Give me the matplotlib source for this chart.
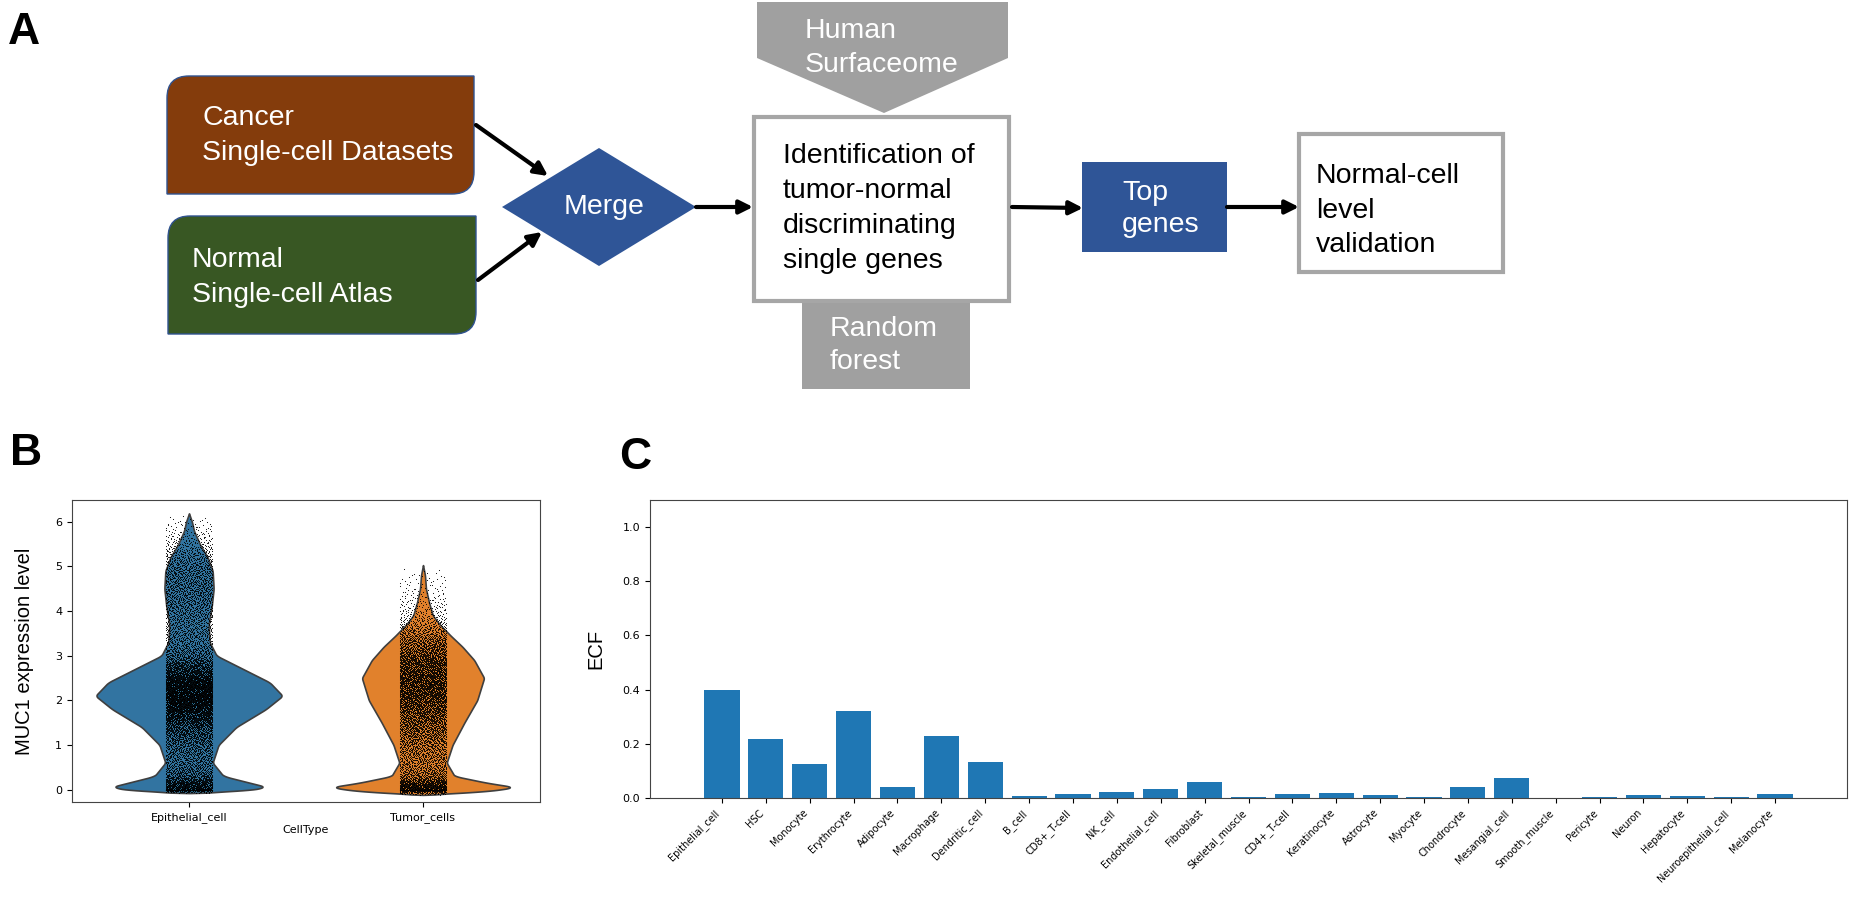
import numpy as np
import matplotlib
matplotlib.use('Agg')
import matplotlib.pyplot as plt
from matplotlib.patches import Polygon, Rectangle, PathPatch
from matplotlib.path import Path

plt.rcParams['font.family'] = ['Liberation Sans', 'DejaVu Sans']

# ---- panel C data ----
cell_types = ['Epithelial_cell', 'HSC', 'Monocyte', 'Erythrocyte', 'Adipocyte', 'Macrophage',
              'Dendritic_cell', 'B_cell', 'CD8+_T-cell', 'NK_cell', 'Endothelial_cell', 'Fibroblast',
              'Skeletal_muscle', 'CD4+_T-cell', 'Keratinocyte', 'Astrocyte', 'Myocyte', 'Chondrocyte',
              'Mesangial_cell', 'Smooth_muscle', 'Pericyte', 'Neuron', 'Hepatocyte',
              'Neuroepithelial_cell', 'Melanocyte']
ecf = [0.40, 0.218, 0.126, 0.32, 0.042, 0.23, 0.133, 0.008, 0.014, 0.022, 0.033, 0.058,
       0.003, 0.013, 0.018, 0.011, 0.004, 0.04, 0.074, 0.0, 0.003, 0.011, 0.009, 0.003, 0.015]

# ---- panel B data (violin outline: level, half-width in px) ----
violin_groups = ['Epithelial_cell', 'Tumor_cells']
violin_colors = ['#3274a1', '#e1812c']
epi_levels = [-0.08, -0.03, 0.05, 0.15, 0.3, 0.6, 1.0, 1.4, 1.8, 2.1, 2.4, 2.7, 3.0, 3.3,
              3.7, 4.1, 4.5, 4.9, 5.2, 5.5, 5.8, 6.0, 6.19]
epi_width = [0, 55, 80, 62, 35, 24, 30, 48, 78, 95, 82, 55, 28, 21,
             20, 23, 25, 24, 19, 11, 5, 3, 0]
tum_levels = [-0.12, -0.04, 0.05, 0.15, 0.3, 0.6, 1.0, 1.5, 2.0, 2.5, 2.9, 3.2, 3.45, 3.7,
              3.9, 4.2, 4.5, 4.8, 5.03]
tum_width = [0, 65, 94, 65, 32, 24, 30, 42, 55, 62, 52, 40, 28, 17,
             10, 6, 3, 2, 0]
n_cells = [9000, 7000]
n_zero = [500, 300]

W, H = 1850, 897
fig = plt.figure(figsize=(W / 100, H / 100), dpi=100)

# ---- panel A: flow chart drawn in pixel coordinates ----
ov = fig.add_axes([0, 0, 1, 1])
ov.set_xlim(0, W)
ov.set_ylim(H, 0)
ov.axis('off')
ov.patch.set_visible(False)

fs = 20.5
blue = '#2F5597'
gray = '#A0A0A0'


def diag_box(x0, y0, x1, y1, r, color):
    verts = [(x0, y1), (x0, y0 + r), (x0, y0), (x0 + r, y0), (x1, y0), (x1, y1 - r),
             (x1, y1), (x1 - r, y1), (x0, y1)]
    codes = [Path.MOVETO, Path.LINETO, Path.CURVE3, Path.CURVE3, Path.LINETO, Path.LINETO,
             Path.CURVE3, Path.CURVE3, Path.CLOSEPOLY]
    ov.add_patch(PathPatch(Path(verts, codes), facecolor=color, edgecolor='#2F528F', lw=1))


def arrow(p0, p1):
    ov.annotate('', xy=p1, xytext=p0,
                arrowprops=dict(arrowstyle='-|>', lw=3, color='black', mutation_scale=20,
                                shrinkA=0, shrinkB=0))


def lines(x, ys, texts, color):
    for y, t in zip(ys, texts):
        ov.text(x, y, t, fontsize=fs, color=color, va='baseline', ha='left')


def halton(n, base):
    out = np.zeros(n)
    for k in range(n):
        f, r, i = 1.0, 0.0, k + 1
        while i > 0:
            f /= base
            r += f * (i % base)
            i //= base
        out[k] = r
    return out


diag_box(167, 76, 474, 194, 22, '#843C0C')
lines(202, [125, 160], ['Cancer', 'Single-cell Datasets'], 'white')
diag_box(168, 216, 476, 334, 22, '#385723')
lines(192, [267, 302], ['Normal', 'Single-cell Atlas'], 'white')

ov.add_patch(Polygon([(502, 207), (599, 148), (696, 207), (599, 266)], closed=True,
                     facecolor=blue, edgecolor='none'))
ov.text(604, 207, 'Merge', fontsize=fs, color='white', ha='center', va='center')

arrow((476, 125), (548, 176))
arrow((478, 280), (542, 232))
arrow((696, 207), (753, 207))

ov.add_patch(Polygon([(757, 2), (1008, 2), (1008, 58), (884, 113), (757, 58)], closed=True,
                     facecolor=gray, edgecolor='none'))
lines(805, [38, 72], ['Human', 'Surfaceome'], 'white')

ov.add_patch(Rectangle((802, 302), 168, 87, facecolor=gray, edgecolor='none'))
lines(830, [336, 369], ['Random', 'forest'], 'white')

ov.add_patch(Rectangle((754, 117), 255, 184, facecolor='white', edgecolor='#A6A6A6', lw=3))
lines(783, [163, 198, 233, 268],
      ['Identification of', 'tumor-normal', 'discriminating', 'single genes'], 'black')

arrow((1012, 207), (1083, 208))
ov.add_patch(Rectangle((1082, 162), 145, 90, facecolor=blue, edgecolor='none'))
lines(1122, [200, 232], ['Top', 'genes'], 'white')

arrow((1227, 207), (1299, 207))
ov.add_patch(Rectangle((1299, 134), 204, 138, facecolor='white', edgecolor='#A6A6A6', lw=3))
lines(1316, [183, 218, 252], ['Normal-cell', 'level', 'validation'], 'black')

for lab, x, y in [('A', 8, 12), ('B', 10, 433), ('C', 619, 437)]:
    ov.text(x, y, lab, fontsize=32, fontweight='bold', va='top', ha='left')

# ---- panel B: violins ----
axb = fig.add_axes([72 / W, 1 - 802 / H, 468 / W, 302 / H])
half_max = 0.4 / 95
profiles = [(epi_levels, epi_width), (tum_levels, tum_width)]
for i, (lv, wd) in enumerate(profiles):
    lv = np.array(lv)
    wd = np.array(wd) * half_max
    yy = np.linspace(lv[0], lv[-1], 600)
    ww = np.interp(yy, lv, wd)
    k = np.ones(9) / 9
    ww = np.convolve(np.pad(ww, 4, mode='edge'), k, mode='valid')
    ww[0] = ww[-1] = 0
    axb.fill_betweenx(yy, i - ww, i + ww, facecolor=violin_colors[i], edgecolor='#3f3f3f',
                      lw=1.2, zorder=1)
    # cells spread with a Halton sequence over the outline density
    cdf = np.concatenate([[0], np.cumsum((ww[1:] + ww[:-1]) / 2)])
    cdf /= cdf[-1]
    u = halton(n_cells[i], 3)
    v = halton(n_cells[i], 2)
    py = np.interp(v, cdf, yy)
    px = i + 0.1 * (2 * u - 1)
    pzx = i + 0.1 * (2 * halton(n_zero[i], 5) - 1)
    axb.scatter(np.concatenate([px, pzx]), np.concatenate([py, np.zeros(n_zero[i])]),
                s=0.6, c='black', linewidths=0, zorder=2)

axb.set_xlim(-0.5, 1.5)
axb.set_ylim(-0.28, 6.49)
axb.set_xticks([0, 1])
axb.set_xticklabels(violin_groups, fontsize=8, family='DejaVu Sans')
axb.set_yticks(range(7))
axb.set_yticklabels([str(t) for t in range(7)], fontsize=8, family='DejaVu Sans')
axb.set_xlabel('CellType', fontsize=8, family='DejaVu Sans', labelpad=2)
axb.set_ylabel('MUC1 expression level', fontsize=14.5, labelpad=15)
for s in axb.spines.values():
    s.set_color('#444444')

# ---- panel C: bars ----
axc = fig.add_axes([650 / W, 1 - 798 / H, 1197 / W, 298 / H])
axc.bar(cell_types, ecf, color='#1f77b4', width=0.8)
axc.set_ylim(0, 1.1)
axc.set_yticks([0.0, 0.2, 0.4, 0.6, 0.8, 1.0])
axc.tick_params(axis='y', labelsize=8)
axc.tick_params(axis='x', labelsize=7)
for lab in axc.get_yticklabels() + axc.get_xticklabels():
    lab.set_family('DejaVu Sans')
plt.setp(axc.get_xticklabels(), rotation=45, ha='right')
axc.set_ylabel('ECF', fontsize=14.5, labelpad=12)
for s in axc.spines.values():
    s.set_color('#444444')

fig.savefig('out.png', dpi=100)
